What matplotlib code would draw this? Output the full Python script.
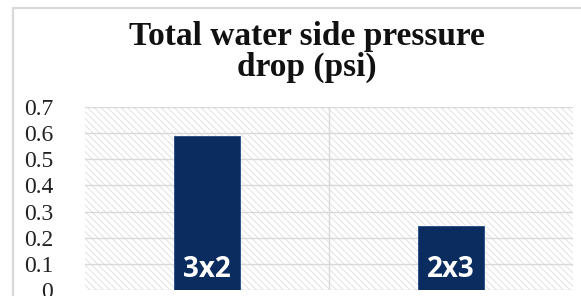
import matplotlib
matplotlib.use("Agg")
import matplotlib.pyplot as plt
from matplotlib.patches import Rectangle

categories = ["3x2", "2x3"]
values = [0.59, 0.245]
yticks = [0, 0.1, 0.2, 0.3, 0.4, 0.5, 0.6, 0.7]
ytick_labels = ["0", "0.1", "0.2", "0.3", "0.4", "0.5", "0.6", "0.7"]
title = "Total water side pressure\ndrop (psi)"

W, H = 581, 296
fig = plt.figure(figsize=(W / 100, H / 100), dpi=100)
fig.patch.set_facecolor("white")

# outer chart frame (partially visible)
fig.add_artist(Rectangle((13 / W, -0.1), 1.2, 1.1 - 8 / H, transform=fig.transFigure,
                         fill=False, edgecolor="#d9d9d9", linewidth=1.6))

ax = fig.add_axes([85 / W, 1 - 290 / H, (573 - 85) / W, (290 - 107) / H])
ax.set_xlim(0, 2)
ax.set_ylim(0, 0.7)

plt.rcParams["hatch.linewidth"] = 0.7
ax.add_patch(Rectangle((0, 0), 1, 1, transform=ax.transAxes, facecolor="white",
                       edgecolor="#e2e2e2", hatch="\\\\\\\\\\", linewidth=0, zorder=0))

for y in yticks:
    ax.axhline(y, color="#d9d9d9", linewidth=1.0, zorder=1)
ax.axvline(1, color="#d9d9d9", linewidth=1.0, zorder=1)

x = [i + 0.5 for i in range(len(categories))]
ax.bar(x, values, width=0.27, color="#0a2c5e", edgecolor="#1f4a85", linewidth=0.6, zorder=3)
for xi, lab in zip(x, categories):
    ax.text(xi, 0.05, lab, ha="center", va="baseline", color="white",
            fontsize=20, fontweight="bold", family=["Open Sans", "DejaVu Sans"], zorder=4)

ax.set_xticks([])
ax.set_yticks(yticks)
ax.set_yticklabels(ytick_labels, family=["Liberation Serif"], fontsize=17, color="#222222")
ax.tick_params(axis="y", length=0, pad=23)
for s in ax.spines.values():
    s.set_visible(False)

fig.text(307 / W, 1 - 76 / H, title, ha="center", va="baseline", family=["Liberation Serif"],
         fontweight="bold", fontsize=24, linespacing=0.98, color="#111111")

fig.savefig("out.png", dpi=100, facecolor="white")
